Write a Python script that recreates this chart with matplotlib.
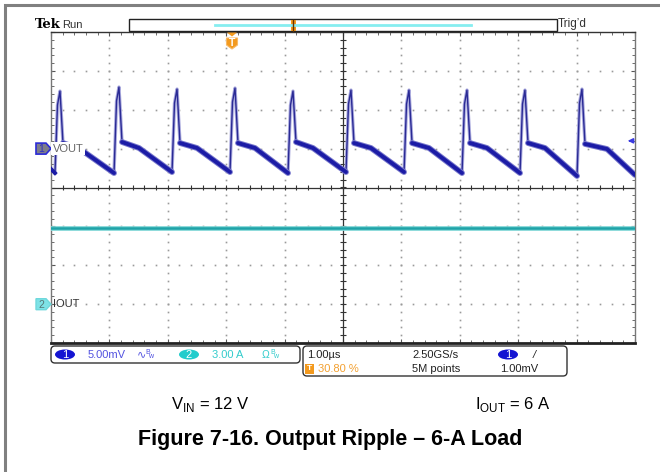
import matplotlib
matplotlib.use("Agg")
import matplotlib.pyplot as plt
import numpy as np
from matplotlib.patches import Rectangle, FancyBboxPatch, Ellipse, Polygon

plt.rcParams["font.family"] = ["Liberation Sans", "DejaVu Sans"]
plt.rcParams["mathtext.fontset"] = "custom"
plt.rcParams["mathtext.rm"] = "Liberation Sans"

# scope settings
ch1_scale = 5.0      # mV/div
ch1_offset = 1.0     # div
ch2_scale = 3.0      # A/div
ch2_offset = -3.0    # div
trig_level = 1.00    # mV

# channel 1 (VOUT ripple) key points, time in us, value in mV
start_t, start_mv = 0.0, -2.62
end_t, end_mv = 10.0, -3.39
valley_t = [0.068, 1.079, 2.072, 3.065, 4.058, 5.051, 6.045, 7.038, 8.031, 9.007]
valley_mv = [-3.14, -3.14, -3.01, -3.01, -3.14, -3.01, -3.01, -3.14, -3.14, -3.52]
edge_t = [0.111, 1.122, 2.115, 3.108, 4.101, 5.094, 6.088, 7.080, 8.074, 9.050]
edge_mv = [5.60, 6.12, 5.86, 5.99, 5.60, 5.73, 5.73, 5.73, 5.73, 5.86]
peak_t = [0.154, 1.164, 2.158, 3.151, 4.144, 5.137, 6.130, 7.123, 8.116, 9.092]
peak_mv = [7.40, 7.92, 7.66, 7.79, 7.40, 7.53, 7.53, 7.53, 7.53, 7.66]
drop_t = [0.205, 1.216, 2.209, 3.202, 4.195, 5.188, 6.182, 7.175, 8.168, 9.144]
drop_mv = [0.72, 0.85, 0.72, 0.72, 0.85, 0.72, 0.72, 0.72, 0.72, 0.60]
flat_t = [0.497, 1.507, 2.500, 3.493, 4.486, 5.479, 6.473, 7.466, 8.459, 9.521]
flat_mv = [-0.05, 0.08, 0.08, 0.08, 0.08, 0.08, 0.08, 0.08, 0.08, -0.05]

# channel 2 (IOUT)
iout_t = [0.0, 10.0]
iout_a = [5.9, 5.9]

ch_info = ["5.00mV", "3.00 A"]
timebase = "1.00\u00b5s"
trig_pos = "30.80 %"
sample_rate = "2.50GS/s"
record_len = "5M points"
trig_text = "1.00mV"


def to_div1(v):
    return np.asarray(v) / ch1_scale + ch1_offset


def to_div2(a):
    return np.asarray(a) / ch2_scale + ch2_offset


fig = plt.figure(figsize=(6.6, 4.72), dpi=100)
W, H = 660.0, 472.0
ax = fig.add_axes([51 / W, 1 - 343 / H, 584 / W, 311 / H])
ax.set_xlim(0, 10)
ax.set_ylim(-4, 4)

# graticule
dot = dict(ls="none", marker="s", ms=1.2, color="#9a9a9a", mew=0)
for gx in range(1, 10):
    if gx != 5:
        ax.plot([gx] * 41, np.linspace(-4, 4, 41), **dot)
for gy in range(-3, 4):
    if gy != 0:
        ax.plot(np.linspace(0, 10, 51), [gy] * 51, **dot)
ax.axhline(0, color="#333333", lw=0.9)
ax.axvline(5, color="#333333", lw=0.9)
ax.vlines(np.arange(0.2, 10, 0.2), -0.07, 0.07, color="#333333", lw=0.8)
ax.hlines(np.arange(-3.8, 4, 0.2), 4.95, 5.05, color="#333333", lw=0.8)
ax.set_xticks(np.arange(0, 10.01, 1))
ax.set_xticks(np.arange(0, 10.01, 0.2), minor=True)
ax.set_yticks(np.arange(-4, 4.01, 1))
ax.set_yticks(np.arange(-4, 4.01, 0.2), minor=True)
ax.tick_params(which="both", direction="in", top=True, right=True,
               labelbottom=False, labelleft=False, color="#555555")
ax.tick_params(which="major", length=3)
ax.tick_params(which="minor", length=2)
for s in ["top", "left", "right"]:
    ax.spines[s].set_color("#777777")
    ax.spines[s].set_linewidth(1)
ax.spines["top"].set_color("#333333")
ax.spines["bottom"].set_color("#222222")
ax.spines["bottom"].set_linewidth(2)

# channel 2 trace
ax.plot(iout_t, to_div2(iout_a), color="#7fd6d6", lw=3.4, zorder=3)
ax.plot(iout_t, to_div2(iout_a), color="#1fa3a8", lw=1.8, zorder=3)

# channel 1 trace: fast edges thin, slow parts thick
nxt_t = valley_t[1:] + [end_t]
nxt_mv = valley_mv[1:] + [end_mv]
for i in range(len(peak_t)):
    et = [valley_t[i], edge_t[i], peak_t[i], drop_t[i]]
    ev = to_div1([valley_mv[i], edge_mv[i], peak_mv[i], drop_mv[i]])
    ax.plot(et, ev, color="#a9a9dd", lw=2.4, zorder=4, solid_joinstyle="round")
    ax.plot(et, ev, color="#2a2a95", lw=1.0, zorder=4)
    st = [drop_t[i], flat_t[i], nxt_t[i]]
    sv = to_div1([drop_mv[i], flat_mv[i], nxt_mv[i]])
    ax.plot(st, sv, color="#7878cc", lw=4.2, zorder=5, solid_capstyle="round")
    ax.plot(st, sv, color="#1c1ca6", lw=2.8, zorder=5, solid_capstyle="round")
ax.plot([start_t, valley_t[0]], to_div1([start_mv, valley_mv[0]]),
        color="#1c1ca6", lw=2.8, zorder=5)

# overlay in pixel coordinates for screen annotations
ov = fig.add_axes([0, 0, 1, 1], zorder=5)
ov.set_xlim(0, W)
ov.set_ylim(H, 0)
ov.axis("off")
ov.patch.set_alpha(0)

# outer frame
ov.plot([4.5, 4.5, W], [H, 4.5, 4.5], color="#808080", lw=2.2, solid_joinstyle="miter")

# header
ov.text(35, 25, "Tek", family="DejaVu Serif", weight="bold", fontsize=9.5, va="center")
ov.text(62, 25, "Run", fontsize=8, va="center", color="#333333")
ov.text(558, 24, "Trig\u2019d", fontsize=8.5, va="center", color="#333333")
ov.add_patch(Rectangle((129, 19), 428, 12, fill=False, ec="#222222", lw=1))
ov.plot([215, 471], [24.5, 24.5], color="#86eef0", lw=2)
ov.add_patch(Rectangle((290.5, 19.5), 5, 11.5, fc="#f39a1e", ec="none"))
ov.plot([293, 293], [19.5, 31], color="#663300", lw=1)

# trigger position marker
ov.add_patch(Polygon([[227, 32.5], [237, 32.5], [232, 36.5]], closed=True,
                     fc="#f39a1e", ec="none"))
ov.add_patch(Polygon([[226.5, 38], [237.5, 38], [237.5, 45], [232, 49], [226.5, 45]],
                     closed=True, fc="#f39a1e", ec="#f7b865", lw=0.8))
ov.text(232, 43, "T", color="white", weight="bold", fontsize=7.5, ha="center", va="center")

# channel markers
y1 = 187.5 - 38.9 * ch1_offset
ov.add_patch(Polygon([[36, y1 - 5.5], [46, y1 - 5.5], [51, y1], [46, y1 + 5.5], [36, y1 + 5.5]],
                     closed=True, fc="#7d7d8a", ec="#2b2bd6", lw=1.2))
ov.text(41, y1 + 0.5, "1", color="#3030c0", fontsize=7.5, ha="center", va="center")
ov.text(52.5, y1, "VOUT", fontsize=8, color="#666666", va="center",
        bbox=dict(fc="white", ec="none", pad=1.2))
y2 = 187.5 - 38.9 * ch2_offset
ov.add_patch(Polygon([[36, y2 - 5.5], [46, y2 - 5.5], [51, y2], [46, y2 + 5.5], [36, y2 + 5.5]],
                     closed=True, fc="#7ee2e6", ec="#6fd8dc", lw=1))
ov.text(41, y2 + 0.5, "2", color="#557777", fontsize=7.5, ha="center", va="center")
ov.text(52.5, y2, "IOUT", fontsize=8, color="#333333", va="center")

# trigger level arrow on the right
yt = 187.5 - 38.9 * (trig_level / ch1_scale + ch1_offset)
ov.annotate("", xy=(625, yt), xytext=(634, yt),
            arrowprops=dict(arrowstyle="-|>", color="#3a3ae0", lw=1.2, mutation_scale=7))

# bottom info panel
ov.add_patch(FancyBboxPatch((51, 346), 249, 17, boxstyle="round,pad=0,rounding_size=4",
                            fc="white", ec="#333333", lw=1))
ov.add_patch(FancyBboxPatch((303, 346), 264, 30, boxstyle="round,pad=0,rounding_size=4",
                            fc="white", ec="#333333", lw=1))
fs = 8
ov.add_patch(Ellipse((65, 354.5), 20, 10, fc="#1414d2", ec="none"))
ov.text(65, 355, "1", color="white", fontsize=fs, ha="center", va="center")
ov.text(88, 354.5, ch_info[0], color="#5252e0", fontsize=fs, va="center")
ov.text(137, 354.5, "\u223f", color="#5252e0", fontsize=fs, va="center")
ov.text(145, 353, "B", color="#5252e0", fontsize=5, va="center")
ov.text(148.5, 356, "w", color="#5252e0", fontsize=5, va="center")
ov.add_patch(Ellipse((189, 354.5), 20, 10, fc="#22cccc", ec="none"))
ov.text(189, 355, "2", color="white", fontsize=fs, ha="center", va="center")
ov.text(212, 354.5, ch_info[1], color="#33cccc", fontsize=fs, va="center")
ov.text(262, 354.5, "\u03a9", color="#33cccc", fontsize=7.5, va="center")
ov.text(270, 353, "B", color="#33cccc", fontsize=5, va="center")
ov.text(273.5, 356, "w", color="#33cccc", fontsize=5, va="center")

ov.text(307, 354.5, timebase, color="#222222", fontsize=fs, va="center")
ov.add_patch(Rectangle((305, 364), 9, 9.5, fc="#f39a1e", ec="none"))
ov.text(309.5, 369, "T", color="white", fontsize=6, weight="bold", ha="center", va="center")
ov.text(318, 369, trig_pos, color="#f3a030", fontsize=fs, va="center")
ov.text(412, 354.5, sample_rate, color="#222222", fontsize=fs, va="center")
ov.text(412, 369, record_len, color="#222222", fontsize=fs, va="center")
ov.add_patch(Ellipse((508, 354.5), 20, 10, fc="#1414d2", ec="none"))
ov.text(508, 355, "1", color="white", fontsize=fs, ha="center", va="center")
ov.text(533, 354.5, "/", color="#222222", fontsize=fs, va="center", style="italic")
ov.text(500, 369, trig_text, color="#222222", fontsize=fs, va="center")

# caption
ov.text(210, 405, r"V$_{\mathrm{IN}}$ = 12 V", fontsize=12, ha="center", va="center")
ov.text(513, 405, r"I$_{\mathrm{OUT}}$ = 6 A", fontsize=12, ha="center", va="center")
ov.text(330, 440, "Figure 7-16. Output Ripple \u2013 6-A Load", fontsize=15.5,
        weight="bold", ha="center", va="center")

fig.savefig("out.png", dpi=100)
